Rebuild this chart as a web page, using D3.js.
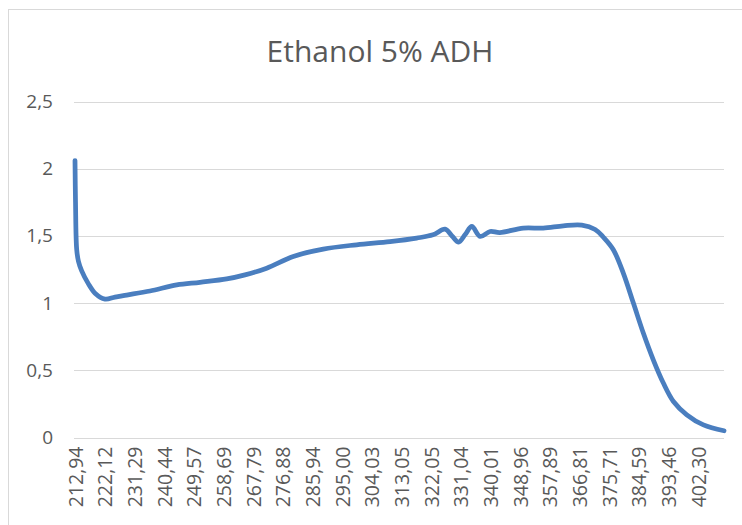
<!DOCTYPE html>
<html>
<head>
<meta charset="utf-8">
<script src="https://cdn.jsdelivr.net/npm/d3@7"></script>
<style>
  body { margin: 0; background: #fff; }
  text { font-family: "Open Sans", sans-serif; fill: #595959; }
</style>
</head>
<body>
<svg id="chart" width="742" height="525"></svg>
<script>
// category labels on the x axis (wavelength, nm)
var xLabels = [212.94, 222.12, 231.29, 240.44, 249.57, 258.69, 267.79, 276.88, 285.94, 295.00, 304.03,
               313.05, 322.05, 331.04, 340.01, 348.96, 357.89, 366.81, 375.71, 384.59, 393.46, 402.30]

var yTicks = [0, 0.5, 1, 1.5, 2, 2.5]

// absorbance
var wavelength = [212.94, 213.1, 213.46, 214.02, 215.01, 217.05, 219.13, 222.22, 225.31, 228.93, 236.12,
                  244.35, 251.51, 259.72, 265.33, 271.98, 280.11, 289.27, 299.46, 309.60, 317.69, 322.64,
                  326.28, 328.4, 330.41, 332.39, 334.4, 336.91, 339.92, 342.88, 349.94, 355.93, 361.99,
                  367.52, 371.53, 374.02, 376.99, 379.97, 382.99, 385.96, 388.94, 391.95, 394.96, 398.94,
                  403.89, 410.04]
var absorbance = [2.06, 1.75, 1.40, 1.31, 1.24, 1.145, 1.074, 1.03, 1.045, 1.06, 1.09,
                  1.135, 1.155, 1.18, 1.21, 1.26, 1.347, 1.402, 1.434, 1.458, 1.484, 1.508,
                  1.55, 1.50, 1.454, 1.51, 1.57, 1.496, 1.533, 1.525, 1.558, 1.558, 1.575,
                  1.58, 1.548, 1.49, 1.397, 1.223, 1.0, 0.777, 0.578, 0.405, 0.268, 0.169,
                  0.094, 0.050]

var dimensions = {
    width: 742,
    height: 525,
    margin: { top: 101.5, bottom: 87.5, left: 75, right: 18 }
}

var data = wavelength.map((w, i) => ({ w: w, v: absorbance[i] }))

var svg = d3.select("#chart")

// chart border
svg.append("rect")
   .attr("x", 8.5).attr("y", 9.5)
   .attr("width", 800).attr("height", 600)
   .attr("fill", "none")
   .attr("stroke", "#d9d9d9")

var step = 29.67
var x0 = dimensions.margin.left
var xRight = dimensions.width - dimensions.margin.right

// category axis: labels are evenly spaced, so map wavelength piecewise onto label slots
var xScale = d3.scaleLinear()
               .domain(xLabels)
               .range(xLabels.map((d, i) => x0 + i * step))

var yScale = d3.scaleLinear()
               .domain([0, 2.5])
               .range([dimensions.height - dimensions.margin.bottom, dimensions.margin.top])

// gridlines
svg.append("g")
   .selectAll("line")
   .data(yTicks)
   .enter()
   .append("line")
   .attr("x1", x0 - 1)
   .attr("x2", xRight)
   .attr("y1", d => Math.round(yScale(d)) + 0.5)
   .attr("y2", d => Math.round(yScale(d)) + 0.5)
   .attr("stroke", "#d9d9d9")
   .attr("stroke-width", 1)

var yAxisGen = d3.axisLeft(yScale)
                 .tickValues(yTicks)
                 .tickSize(0)
                 .tickPadding(0)
                 .tickFormat(d => String(d).replace(".", ","))

var yAxis = svg.append("g")
               .attr("transform", `translate(${x0 - 22}, 0)`)
               .call(yAxisGen)
yAxis.select(".domain").remove()
yAxis.selectAll("text")
     .style("font-size", "19px")
     .style("font-family", "'Open Sans', sans-serif")
     .attr("fill", "#595959")

var xAxisGen = d3.axisBottom(xScale)
                 .tickValues(xLabels)
                 .tickSize(0)
                 .tickFormat(d => d.toFixed(2).replace(".", ","))

var xAxis = svg.append("g")
               .attr("transform", `translate(0, ${dimensions.height - dimensions.margin.bottom})`)
               .call(xAxisGen)
xAxis.select(".domain").remove()
xAxis.selectAll("text")
     .attr("transform", "rotate(-90)")
     .attr("text-anchor", "end")
     .attr("x", -9)
     .attr("y", 0)
     .attr("dy", "0.36em")
     .style("font-size", "19.5px")
     .style("font-family", "'Open Sans', sans-serif")
     .attr("fill", "#595959")

var line = d3.line()
             .x(d => xScale(d.w))
             .y(d => yScale(d.v))
             .curve(d3.curveCatmullRom.alpha(0.5))

svg.append("path")
   .datum(data)
   .attr("d", line)
   .attr("fill", "none")
   .attr("stroke", "#4a7ebf")
   .attr("stroke-width", 4.75)
   .attr("stroke-linejoin", "round")
   .attr("stroke-linecap", "round")

svg.append("text")
   .attr("x", 380)
   .attr("y", 62)
   .attr("text-anchor", "middle")
   .style("font-size", "30px")
   .text("Ethanol 5% ADH")
</script>
</body>
</html>
